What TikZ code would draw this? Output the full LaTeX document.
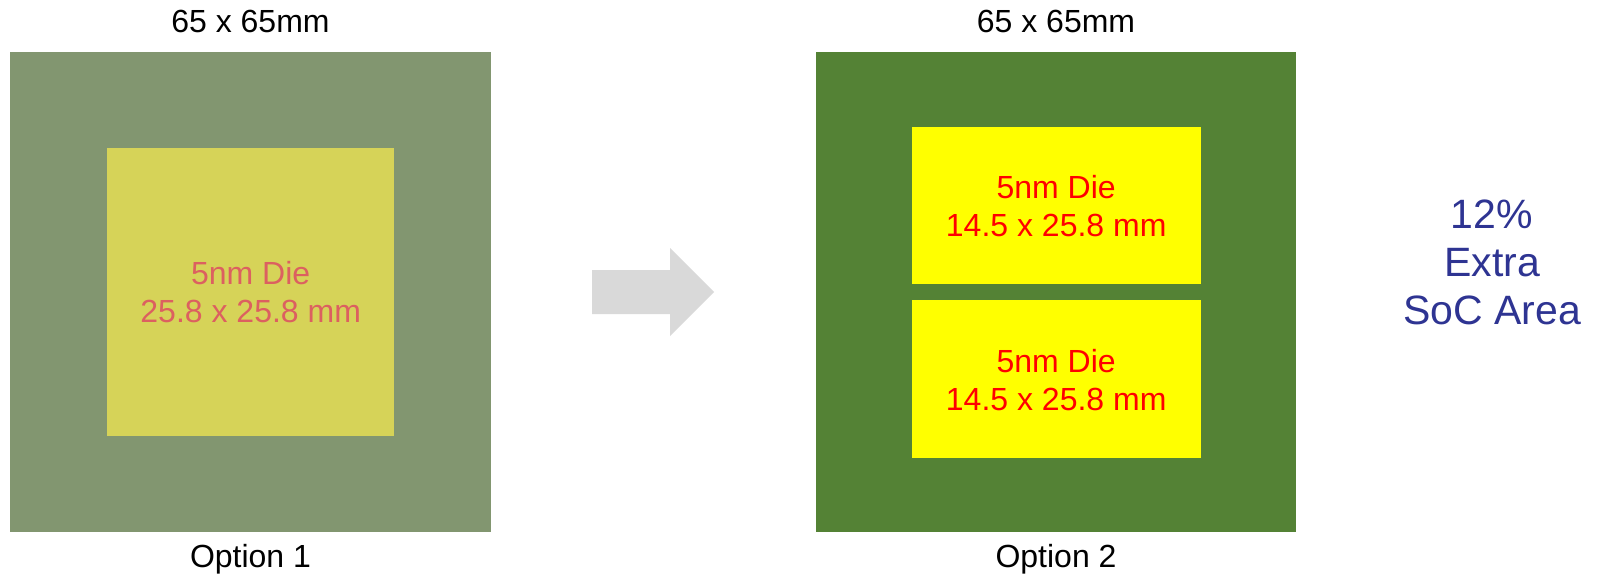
\documentclass[tikz,border=0pt]{standalone}
\usepackage{fontspec}
\setmainfont{Liberation Sans}
\definecolor{oldgreen}{RGB}{130,150,112}
\definecolor{olddie}{RGB}{214,211,88}
\definecolor{oldtext}{RGB}{220,96,96}
\definecolor{newgreen}{RGB}{84,130,53}
\definecolor{arrowgray}{RGB}{217,217,217}
\definecolor{bluetext}{RGB}{46,52,146}
\definecolor{dieyellow}{RGB}{255,255,0}
\begin{document}
\begin{tikzpicture}[x=1pt,y=-1pt,
  label32/.style={inner sep=0pt,align=center,font=\fontsize{32}{38.4}\selectfont},
  box/.style={inner sep=0pt,anchor=north west,draw=none},
  dietext/.style={label32,text=red}]
\useasboundingbox (0,0) rectangle (1600,579);
% Option 1
\node[label32] (t1) at (250.5,21) {65 x 65mm};
\node[box,fill=oldgreen,minimum width=480.6pt,minimum height=479.6pt] (o1) at (10.2,52) {};
\node[box,fill=olddie,minimum width=287pt,minimum height=288pt] (d1) at (107,148) {};
\node[label32,text=oldtext] (d1t) at (d1.center) {5nm Die\\25.8 x 25.8 mm};
\node[label32] (op1) at (250.5,559) {Option 1};
% arrow
\fill[arrowgray] (592,270) -- (670,270) -- (670,248) -- (714,292) -- (670,336) -- (670,314) -- (592,314) -- cycle;
% Option 2
\node[label32] (t2) at (1056,21) {65 x 65mm};
\node[box,fill=newgreen,minimum width=480pt,minimum height=480pt] (o2) at (816,52) {};
\node[box,fill=dieyellow,minimum width=289pt,minimum height=157pt] (d2) at (911.5,126.5) {};
\node[box,fill=dieyellow,minimum width=289pt,minimum height=158pt] (d3) at (911.5,300) {};
\node[dietext] (d2t) at ([yshift=-1pt]d2.center) {5nm Die\\14.5 x 25.8 mm};
\node[dietext] (d3t) at ([yshift=-1pt]d3.center) {5nm Die\\14.5 x 25.8 mm};
\node[label32] (op2) at (1056,559) {Option 2};
% extra area
\node[inner sep=0pt,align=center,text=bluetext,font=\fontsize{41}{48}\selectfont] (extra) at (1492,262) {12\%\\Extra\\SoC Area};
\end{tikzpicture}
\end{document}
